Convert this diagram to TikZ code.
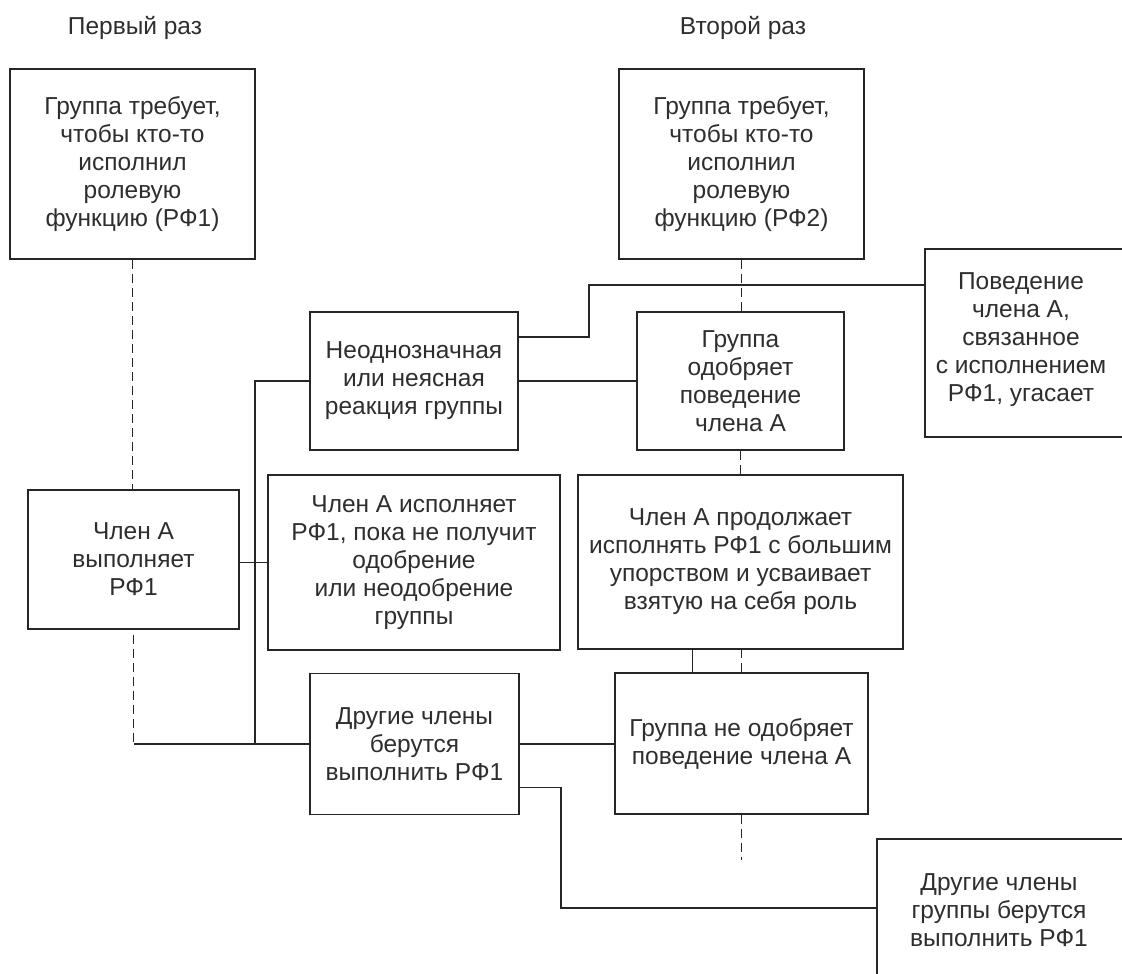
\documentclass[tikz,border=0pt]{standalone}
\usepackage{fontspec}
\setmainfont{Liberation Sans}
\begin{document}
\begin{tikzpicture}[x=1pt,y=-1pt,
  box/.style={draw=black!85, line width=1.7pt, align=center, inner sep=0pt,
              text=black!82, font=\fontsize{24.5}{28}\selectfont},
  boxtext/.style={align=center, inner sep=0pt,
              text=black!82, font=\fontsize{24.5}{28}\selectfont},
  title/.style={text=black!82, font=\fontsize{24.5}{28}\selectfont},
  conn/.style={draw=black!85, line width=1.7pt},
  dconn/.style={draw=black!85, line width=1.7pt, dash pattern=on 9pt off 5pt}]
\fill[white] (0,0) rectangle (1122,974);
\useasboundingbox (0,0) rectangle (1122,974);

\node[title] (t1) at (135,28) {Первый раз};
\node[title] (t2) at (743,28) {Второй раз};

\node[box, minimum width=245pt, minimum height=190pt] (A1) at (132.5,164)
  {Группа требует,\\чтобы кто-то\\исполнил\\ролевую\\функцию (РФ1)};
\node[box, minimum width=245pt, minimum height=190pt] (A2) at (741.5,164)
  {Группа требует,\\чтобы кто-то\\исполнил\\ролевую\\функцию (РФ2)};
\node[box, minimum width=211pt, minimum height=139pt] (CA) at (133.5,559.5)
  {Член А\\выполняет\\РФ1};
\node[box, minimum width=208pt, minimum height=138pt] (Amb) at (414,381)
  {Неоднозначная\\или неясная\\реакция группы};
\node[box, minimum width=207pt, minimum height=138pt] (Appr) at (740.5,381)
  {Группа\\одобряет\\поведение\\члена А};
\node[box, minimum width=212pt, minimum height=188pt] (Beh) at (1031,343) {};
\node[boxtext] (BehT) at (1021,340)
  {Поведение\\члена А,\\связанное\\с исполнением\\РФ1, угасает};
\node[box, minimum width=292pt, minimum height=175pt] (Perf) at (414,562.5)
  {Член А исполняет\\РФ1, пока не получит\\одобрение\\или неодобрение\\группы};
\node[box, minimum width=325pt, minimum height=174pt] (Cont) at (740.5,562)
  {Член А продолжает\\исполнять РФ1 с большим\\упорством и усваивает\\взятую на себя роль};
\node[box, minimum width=209pt, minimum height=141pt] (Oth) at (414.5,744)
  {Другие члены\\берутся\\выполнить РФ1};
\node[box, minimum width=253pt, minimum height=141pt] (Dis) at (741.5,743.5)
  {Группа не одобряет\\поведение члена А};
\node[box, minimum width=260pt, minimum height=160pt] (Oth2) at (1007,919) {};
\node[boxtext] (Oth2T) at (999,910)
  {Другие члены\\группы берутся\\выполнить РФ1};

% left column
\draw[dconn] (A1.south) -- (A1.south |- CA.north);
\coordinate (j1) at (CA.south |- Oth.west);
\draw[dconn] ([yshift=-5pt]CA.south) -- (j1);
\draw[conn] (j1) -- (Oth.west);
\coordinate (v) at (255,744);
\draw[conn] (Amb.west) -| (v);
\draw[conn] (Perf.west) -- (Perf.west -| CA.east);

% middle
\draw[conn] (Amb.east) -- (Appr.west);
\coordinate (bend) at (589,285);
\draw[conn] ([yshift=44pt]Amb.east) -| (bend) -- (bend -| Beh.west);
\draw[conn] (Oth.east) -- (Oth.east -| Dis.west);
\coordinate (bend2) at (561,908);
\draw[conn] ([yshift=-43.5pt]Oth.east) -| (bend2) -- (bend2 -| Oth2.west);

% right column
\draw[dconn] (A2.south) -- (A2.south |- Appr.north);
\draw[dconn] (Appr.south) -- (Appr.south |- Cont.north);
\draw[conn] ([xshift=-49pt]Dis.north) -- ([xshift=-49pt]Dis.north |- Cont.south);
\draw[dconn] (Dis.north) -- (Dis.north |- Cont.south);
\coordinate (dend) at (741.5,860);
\draw[dconn] (Dis.south) -- (dend);
\end{tikzpicture}
\end{document}
